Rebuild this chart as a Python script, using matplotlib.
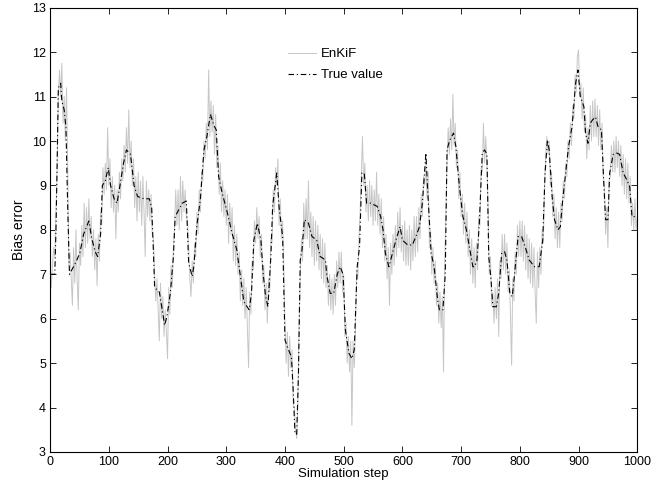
import matplotlib
matplotlib.use("Agg")
import matplotlib.pyplot as plt

# True value: (simulation step, value)
true_steps = [0, 8, 10, 12, 14, 18, 20, 24, 27, 30, 33, 37, 45, 51, 57, 66, 71, 77, 81, 86,
              89, 94, 99, 103, 109, 114, 119, 125, 130, 137, 143, 149, 160, 169, 173, 176, 178,
              186, 191, 195, 199, 205, 210, 213, 219, 225, 232, 236, 242, 245, 250, 256, 262,
              267, 273, 279, 283, 287, 293, 302, 310, 318, 325, 330, 339, 343, 347, 353, 359,
              363, 367, 371, 376, 379, 386, 390, 396, 400, 406, 411, 414, 417, 420, 423, 426,
              429, 433, 440, 446, 454, 460, 469, 471, 477, 483, 489, 494, 499, 503, 509, 514,
              518, 523, 527, 531, 535, 539, 546, 557, 563, 567, 571, 577, 583, 589, 596, 600,
              609, 617, 623, 629, 634, 640, 643, 649, 654, 660, 663, 669, 673, 676, 680, 687,
              691, 697, 703, 709, 714, 720, 723, 727, 731, 736, 740, 744, 747, 751, 754, 760,
              764, 769, 774, 778, 783, 787, 791, 797, 803, 809, 816, 825, 833, 839, 843, 847,
              850, 855, 859, 865, 869, 873, 878, 883, 889, 895, 899, 903, 909, 912, 916, 920,
              924, 929, 933, 939, 943, 946, 950, 953, 959, 965, 970, 976, 982, 987, 991, 995,
              1000]
true_vals = [7.0, 7.0, 8.0, 9.5, 11.2, 11.3, 10.9, 10.7, 10.3, 8.5, 7.0, 7.1, 7.3, 7.5, 7.9,
             8.2, 7.8, 7.5, 7.4, 7.9, 9.0, 9.1, 9.4, 9.0, 8.7, 8.6, 9.0, 9.5, 9.8, 9.7, 9.0,
             8.75, 8.7, 8.7, 8.5, 7.5, 6.7, 6.6, 6.2, 5.85, 6.05, 6.6, 7.4, 8.3, 8.45, 8.6,
             8.65, 7.25, 6.95, 7.2, 8.1, 8.7, 9.8, 10.1, 10.6, 10.35, 10.25, 9.2, 8.83, 8.38,
             7.92, 7.55, 6.87, 6.38, 6.2, 6.57, 7.77, 8.15, 7.77, 7.0, 6.5, 6.27, 7.4, 8.53,
             9.28, 8.5, 7.85, 5.52, 5.3, 5.14, 4.39, 3.41, 3.4, 4.77, 7.32, 7.55, 8.23, 8.15,
             7.85, 7.77, 7.4, 7.32, 7.0, 6.57, 6.57, 7.0, 7.17, 7.0, 5.74, 5.22, 5.1, 5.3,
             7.17, 7.62, 9.28, 9.28, 8.6, 8.6, 8.53, 8.3, 8.0, 7.47, 7.17, 7.47, 7.77, 8.07,
             7.77, 7.66, 7.66, 7.85, 8.07, 8.6, 9.73, 8.9, 7.47, 7.17, 6.42, 6.2, 6.2, 7.0,
             9.8, 10.0, 10.18, 9.88, 8.98, 8.3, 8.0, 7.62, 7.17, 7.17, 7.32, 8.15, 9.73, 9.8,
             9.7, 7.4, 6.87, 6.27, 6.27, 6.57, 7.47, 7.51, 7.32, 6.57, 6.5, 7.0, 7.85, 7.85,
             7.62, 7.32, 7.17, 7.17, 7.77, 9.28, 10.03, 9.8, 8.75, 8.23, 8.0, 8.07, 8.68,
             9.28, 9.88, 10.33, 11.3, 11.6, 11.0, 10.78, 10.18, 9.95, 10.4, 10.48, 10.54,
             10.33, 10.25, 9.05, 8.23, 8.23, 9.28, 9.7, 9.73, 9.7, 9.28, 9.13, 8.98, 8.3,
             8.3, 8.3]

# EnKiF estimate, every 2 simulation steps
enkif_steps = list(range(0, 1001, 2))
enkif_vals = [
    7.3, 6.7, 7.2, 7.6, 7.4, 8.4, 9.4, 11.0, 11.6, 11.0,
    11.75, 10.4, 11.0, 10.0, 11.2, 9.4, 7.2, 7.5, 6.9, 6.3,
    7.6, 6.8, 8.0, 6.9, 6.2, 7.7, 7.2, 8.1, 7.4, 8.6,
    7.6, 8.5, 7.7, 8.7, 7.8, 8.3, 7.4, 8.0, 7.1, 7.8,
    6.75, 7.9, 7.3, 8.4, 8.1, 9.4, 8.8, 9.5, 8.9, 10.3,
    9.0, 9.6, 8.5, 9.2, 8.4, 9.0, 7.8, 8.9, 8.4, 9.3,
    8.7, 9.6, 9.1, 9.9, 9.3, 10.3, 9.5, 10.7, 9.4, 10.0,
    9.0, 9.6, 8.5, 9.2, 8.2, 9.3, 8.4, 9.1, 8.1, 9.2,
    8.4, 7.4, 9.1, 8.3, 8.9, 8.2, 8.8, 7.9, 7.8, 7.0,
    6.4, 6.9, 6.2, 5.5, 6.8, 6.0, 6.5, 5.6, 6.2, 5.7,
    5.1, 6.7, 6.1, 7.2, 6.7, 7.6, 8.1, 8.9, 8.1, 8.9,
    8.0, 9.2, 8.2, 9.1, 8.4, 8.9, 8.3, 8.2, 7.6, 6.9,
    6.5, 7.3, 6.8, 7.7, 7.4, 8.4, 7.9, 8.9, 8.4, 9.3,
    9.1, 10.0, 9.6, 10.4, 9.8, 11.6, 10.1, 10.9, 10.2, 10.8,
    9.7, 10.6, 9.4, 9.9, 8.8, 9.5, 8.4, 9.1, 8.3, 8.9,
    8.1, 8.8, 7.7, 8.6, 7.9, 8.5, 7.3, 8.1, 7.2, 7.9,
    7.0, 7.5, 6.4, 7.1, 6.3, 6.9, 6.0, 6.7, 5.8, 4.9,
    6.6, 6.1, 7.3, 7.1, 8.2, 7.7, 8.5, 7.8, 8.3, 7.4,
    7.9, 6.8, 7.2, 6.2, 6.8, 5.9, 6.9, 6.6, 7.8, 7.7,
    8.9, 8.4, 9.4, 9.0, 9.6, 8.1, 8.7, 7.8, 8.2, 7.2,
    5.9, 5.0, 5.7, 4.7, 5.6, 4.9, 5.3, 4.1, 4.0, 3.5,
    3.3, 4.1, 5.9, 6.9, 7.8, 7.3, 8.6, 7.8, 8.7, 7.8,
    9.1, 7.6, 8.4, 7.4, 8.3, 7.2, 8.2, 7.3, 8.1, 7.1,
    7.9, 6.9, 7.8, 6.8, 7.7, 6.7, 7.2, 6.3, 7.0, 6.2,
    6.9, 6.1, 7.0, 6.3, 7.3, 6.7, 7.5, 6.8, 7.5, 6.6,
    7.0, 5.6, 5.9, 5.0, 5.6, 4.8, 5.5, 3.6, 5.5, 4.9,
    5.7, 7.1, 6.9, 7.8, 8.4, 9.2, 10.1, 9.0, 9.5, 8.4,
    9.0, 8.2, 9.1, 8.3, 9.0, 8.1, 8.9, 8.2, 9.3, 8.1,
    8.8, 7.9, 8.7, 7.6, 8.3, 7.3, 7.9, 6.9, 7.6, 6.3,
    7.7, 7.0, 7.9, 7.2, 8.1, 7.4, 8.4, 7.6, 8.5, 7.5,
    8.1, 7.3, 8.2, 7.2, 8.0, 7.2, 8.1, 7.1, 8.0, 7.3,
    8.3, 7.4, 8.3, 7.5, 8.5, 7.8, 8.8, 8.3, 9.2, 9.0,
    9.5, 8.7, 9.3, 7.6, 8.0, 7.0, 7.6, 6.8, 7.3, 6.3,
    6.8, 5.9, 6.6, 5.8, 6.5, 4.8, 7.2, 8.3, 9.5, 10.3,
    9.7, 10.5, 9.8, 11.05, 9.9, 10.4, 9.4, 9.8, 8.7, 9.3,
    8.3, 8.8, 7.9, 8.6, 7.7, 8.4, 7.4, 8.0, 7.0, 7.8,
    6.8, 7.6, 6.7, 7.7, 7.1, 8.3, 8.1, 9.4, 9.3, 10.4,
    9.5, 10.1, 9.4, 8.5, 7.0, 7.4, 6.3, 6.6, 5.9, 6.7,
    6.0, 6.9, 5.6, 7.3, 6.9, 7.9, 7.1, 7.9, 7.0, 7.7,
    6.6, 7.1, 6.1, 4.95, 6.9, 6.4, 7.5, 7.0, 8.1, 7.4,
    8.2, 7.4, 8.2, 7.3, 8.1, 7.1, 7.9, 6.9, 7.8, 6.8,
    7.7, 6.7, 7.6, 6.6, 5.9, 7.5, 6.7, 7.6, 7.0, 8.0,
    7.7, 9.0, 9.7, 10.1, 9.7, 10.0, 9.0, 9.3, 8.3, 8.8,
    7.8, 8.5, 7.6, 8.4, 7.6, 8.6, 8.2, 9.1, 8.7, 9.5,
    9.2, 10.0, 9.6, 10.4, 9.9, 10.8, 10.5, 11.5, 11.1, 11.9,
    12.05, 11.0, 11.3, 10.5, 11.2, 10.2, 10.6, 9.6, 10.3, 9.8,
    10.8, 10.0, 10.9, 10.1, 10.95, 10.1, 10.8, 9.9, 10.7, 9.8,
    10.4, 9.2, 9.0, 7.9, 8.5, 7.6, 9.1, 9.2, 9.9, 9.3,
    10.0, 9.3, 10.1, 9.4, 10.0, 9.2, 9.9, 9.0, 9.7, 8.8,
    9.6, 8.7, 9.5, 8.6, 9.2, 8.1, 8.6, 8.0, 8.7, 8.0,
    8.3]

x_ticks = list(range(0, 1001, 100))
y_ticks = list(range(3, 14))

plt.rcParams['font.family'] = ['Liberation Sans', 'DejaVu Sans']

fig = plt.figure(figsize=(6.68, 4.87), dpi=100)
ax = fig.add_axes([0.075, 0.072, 0.879, 0.912])

ax.plot(enkif_steps, enkif_vals, color='#c6c6c6', lw=0.7, label='EnKiF')
ax.plot(true_steps, true_vals, color='black', lw=0.8, linestyle=(0, (5, 2.5, 1, 2.5)),
        label='True value')

ax.set_xlim(0, 1000)
ax.set_ylim(3, 13)
ax.set_xticks(x_ticks)
ax.set_yticks(y_ticks)
ax.tick_params(direction='in', top=True, right=True, length=4, width=0.6, pad=3,
               labelsize=9)
for s in ax.spines.values():
    s.set_linewidth(0.8)

ax.set_xlabel('Simulation step', fontsize=9.5, labelpad=0)
ax.set_ylabel('Bias error', fontsize=10, labelpad=4)

ax.legend(loc='upper left', bbox_to_anchor=(0.39, 0.93), frameon=False,
          fontsize=9.5, handlelength=2.1, handletextpad=0.4, labelspacing=0.65,
          borderpad=0.2)

fig.savefig('out.png', dpi=100)
